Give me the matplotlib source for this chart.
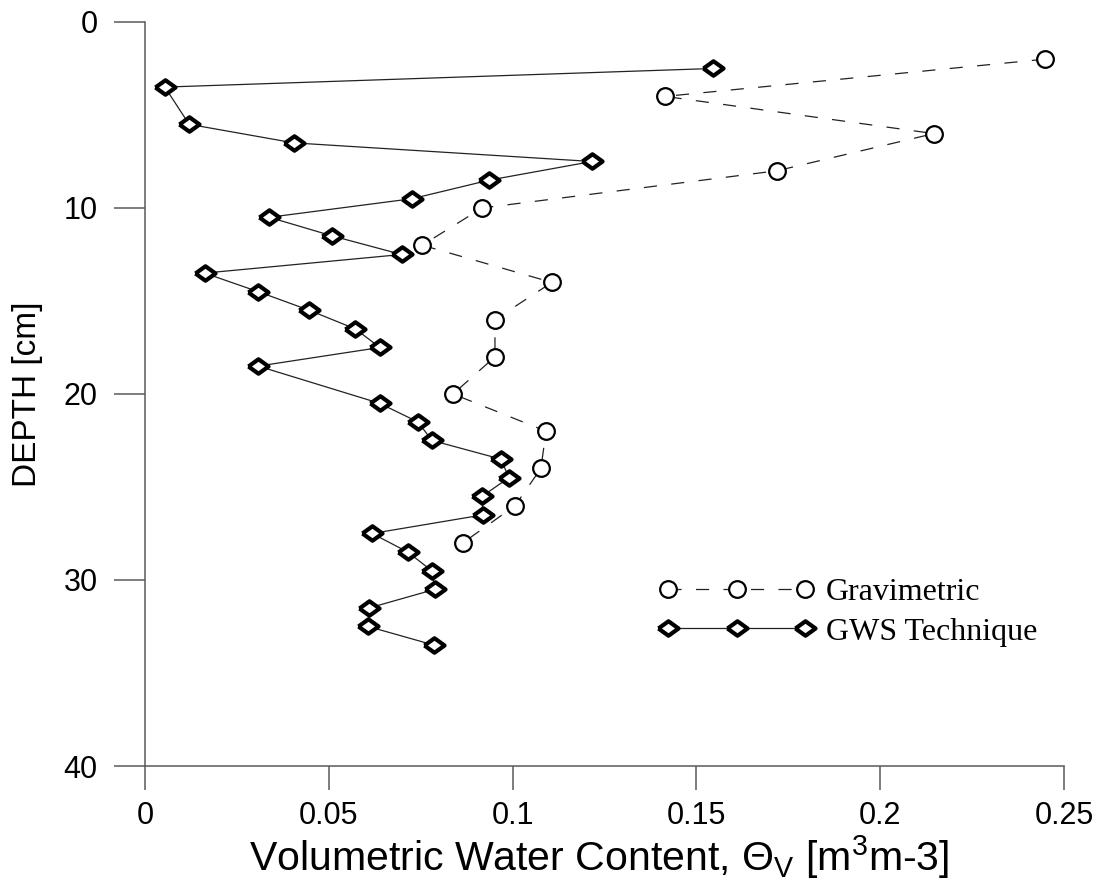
import matplotlib
matplotlib.use('Agg')
import matplotlib.pyplot as plt

# --- data ---
# gravimetric samples (every 2 cm)
grav_depth = [2, 4, 6, 8, 10, 12, 14, 16, 18, 20, 22, 24, 26, 28]
grav_theta = [0.2448, 0.1415, 0.2146, 0.1719, 0.0917, 0.0754, 0.1107,
              0.0952, 0.0952, 0.0838, 0.1091, 0.1077, 0.1007, 0.0865]

# GWS technique readings
gws_depth = [2.5, 3.5, 5.5, 6.5, 7.5, 8.5, 9.5, 10.5, 11.5, 12.5, 13.5, 14.5,
             15.5, 16.5, 17.5, 18.5, 20.5, 21.5, 22.5, 23.5, 24.5, 25.5, 26.5,
             27.5, 28.5, 29.5, 30.5, 31.5, 32.5, 33.5]
gws_theta = [0.1545, 0.0054, 0.0120, 0.0405, 0.1216, 0.0937, 0.0727, 0.0338,
             0.0509, 0.0698, 0.0162, 0.0308, 0.0447, 0.0572, 0.0639, 0.0308,
             0.0638, 0.0742, 0.0781, 0.0968, 0.0990, 0.0917, 0.0919, 0.0618,
             0.0715, 0.0780, 0.0789, 0.0610, 0.0607, 0.0786]

x_ticks = [0, 0.05, 0.1, 0.15, 0.2, 0.25]
x_tick_labels = ['0', '0.05', '0.1', '0.15', '0.2', '0.25']
y_ticks = [0, 10, 20, 30, 40]

plt.rcParams['font.family'] = ['Liberation Sans', 'DejaVu Sans']
plt.rcParams['mathtext.fontset'] = 'custom'
plt.rcParams['mathtext.rm'] = 'Liberation Sans'
plt.rcParams['mathtext.it'] = 'Liberation Sans:italic'

AXIS_GREY = '#5a5a5a'

# flattened diamond, a bit wider than tall like in the source
flat_diamond = [(-1, 0), (0, 0.72), (1, 0), (0, -0.72), (-1, 0)]

fig = plt.figure(figsize=(11.02, 8.83), dpi=100)
ax = fig.add_axes([0.1316, 0.1325, 0.8339, 0.8426])

ax.plot(grav_theta, grav_depth, color='#222222', linewidth=0.9,
        dashes=(10.5, 11.5), marker='o', markersize=12,
        markerfacecolor='white', markeredgecolor='black',
        markeredgewidth=1.6, label='Gravimetric', zorder=2)
ax.plot(gws_theta, gws_depth, color='#222222', linewidth=0.9,
        marker=flat_diamond, markersize=14.5,
        markerfacecolor='white', markeredgecolor='black',
        markeredgewidth=3.0, label='GWS Technique', zorder=3)

ax.set_xlim(0, 0.25)
ax.set_ylim(40, 0)
ax.set_xticks(x_ticks)
ax.set_xticklabels(x_tick_labels)
ax.set_yticks(y_ticks)

# R-style open axes
for side in ['top', 'right']:
    ax.spines[side].set_visible(False)
for side in ['left', 'bottom']:
    ax.spines[side].set_color(AXIS_GREY)
    ax.spines[side].set_linewidth(1.1)

ax.tick_params(axis='y', direction='out', length=22, width=1.1,
               color=AXIS_GREY, pad=12, labelsize=22)
ax.tick_params(axis='x', direction='out', length=17, width=1.1,
               color=AXIS_GREY, pad=8, labelsize=22)

ax.set_ylabel('DEPTH [cm]', fontsize=24)
ax.yaxis.set_label_coords(-0.111, 0.5)
ax.set_xlabel(r'Volumetric Water Content, $\Theta_\mathrm{V}$ [m$^\mathrm{3}$m-3]',
              fontsize=29.5)
ax.xaxis.set_label_coords(0.494, -0.090)

leg = ax.legend(loc='upper left', bbox_to_anchor=(0.583, 0.364),
                bbox_transform=fig.transFigure, frameon=False, numpoints=3,
                handlelength=4.9, handletextpad=0.35, borderpad=0,
                labelspacing=0.32,
                prop={'family': 'Liberation Serif', 'size': 23})

fig.savefig('out.png', dpi=100)
